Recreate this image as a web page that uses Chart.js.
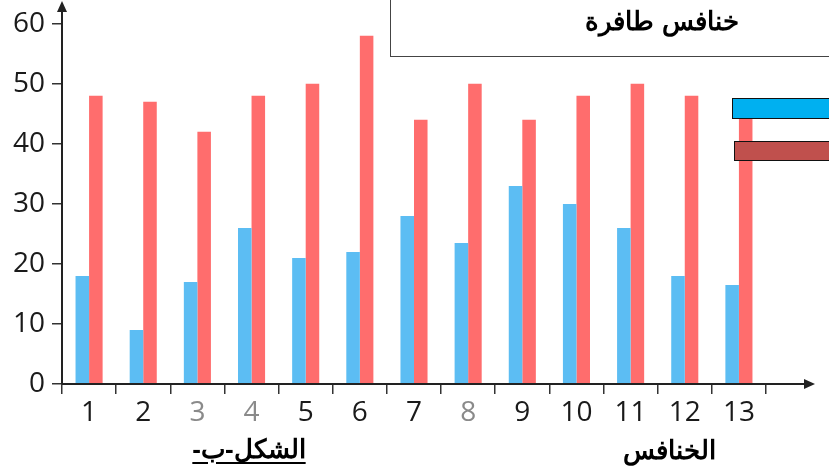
<!DOCTYPE html>
<html>
<head>
<meta charset="utf-8">
<script src="https://cdn.jsdelivr.net/npm/chart.js@4.4.0/dist/chart.umd.min.js"></script>
<style>
  html, body { margin: 0; padding: 0; background: #fff; }
  #wrap { position: relative; width: 829px; height: 472px; overflow: hidden; }
  #chart { position: absolute; left: 0; top: 0; }
  .box { position: absolute; left: 390px; top: -2px; width: 445px; height: 59px;
         border: 1.5px solid #444; box-sizing: border-box; }
  .ar { position: absolute; font-family: "Liberation Sans", Arial, sans-serif; font-weight: bold;
        color: #000; direction: rtl; white-space: nowrap; text-align: center; line-height: 1; }
  .leg { position: absolute; border: 1.5px solid #111; box-sizing: border-box; }
</style>
</head>
<body>
<div id="wrap">
  <canvas id="chart" width="829" height="472"></canvas>
  <div class="box"></div>
  <div class="ar" style="left:542px; width:240px; top:8px; font-size:26px;">خنافس طافرة</div>
  <div class="leg" style="left:732px; top:98px; width:100px; height:21px; background:#00b0f0;"></div>
  <div class="leg" style="left:734px; top:141px; width:100px; height:20px; background:#c0504d;"></div>
  <div class="ar" style="left:149px; width:200px; top:436px; font-size:26px; text-decoration:underline; text-underline-offset:4px;">الشكل-ب-</div>
  <div class="ar" style="left:569px; width:200px; top:437px; font-size:26px;">الخنافس</div>
</div>
<script>
const categories = ['1','2','3','4','5','6','7','8','9','10','11','12','13'];
const blueValues = [18, 9, 17, 26, 21, 22, 28, 23.5, 33, 30, 26, 18, 16.5];
const redValues  = [48, 47, 42, 48, 50, 58, 44, 50, 44, 48, 50, 48, 45];
const yTicks = [0, 10, 20, 30, 40, 50, 60];
const fadedLabels = ['3', '4', '8'];

// axis lines with arrow heads, drawn past the plot area like the printed figure
const axisArrows = {
  id: 'axisArrows',
  afterDraw(chart) {
    const { ctx, chartArea: a } = chart;
    ctx.save();
    ctx.strokeStyle = '#222';
    ctx.fillStyle = '#222';
    ctx.lineWidth = 2;
    ctx.beginPath();
    ctx.moveTo(a.left, a.bottom);
    ctx.lineTo(a.left, 8);
    ctx.moveTo(a.left, a.bottom);
    ctx.lineTo(806, a.bottom);
    ctx.stroke();
    ctx.beginPath();
    ctx.moveTo(a.left, 1);
    ctx.lineTo(a.left - 5, 12);
    ctx.lineTo(a.left + 5, 12);
    ctx.closePath();
    ctx.fill();
    ctx.beginPath();
    ctx.moveTo(815, a.bottom);
    ctx.lineTo(804, a.bottom - 5);
    ctx.lineTo(804, a.bottom + 5);
    ctx.closePath();
    ctx.fill();
    ctx.restore();
  }
};

new Chart(document.getElementById('chart'), {
  type: 'bar',
  data: {
    labels: categories,
    datasets: [
      { data: blueValues, backgroundColor: '#5cbdf3' },
      { data: redValues, backgroundColor: '#ff6d6d' }
    ]
  },
  options: {
    responsive: false,
    animation: false,
    layout: { padding: { left: 0, right: 63, top: 21, bottom: 0 } },
    plugins: { legend: { display: false }, tooltip: { enabled: false } },
    datasets: { bar: { barPercentage: 1, categoryPercentage: 0.5 } },
    scales: {
      x: {
        afterFit(s) { s.height = 88; },
        border: { display: false },
        grid: { drawOnChartArea: false, tickLength: 10, color: '#333', lineWidth: 1.5 },
        ticks: {
          padding: 2,
          font: { family: 'Open Sans', size: 28 },
          color: c => fadedLabels.includes(categories[c.index]) ? '#8a8a8a' : '#1a1a1a'
        }
      },
      y: {
        min: 0, max: 60,
        afterFit(s) { s.width = 62; },
        afterBuildTicks(s) { s.ticks = yTicks.map(v => ({ value: v })); },
        border: { display: false },
        grid: { drawOnChartArea: false, tickLength: 10, color: '#333', lineWidth: 1.5 },
        ticks: { padding: 7, font: { family: 'Open Sans', size: 28 }, color: '#1a1a1a' }
      }
    }
  },
  plugins: [axisArrows]
});
</script>
</body>
</html>
